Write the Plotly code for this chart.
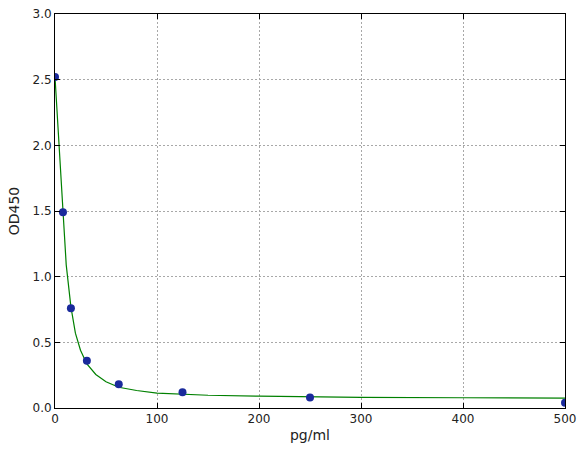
import plotly.graph_objects as go

# standard points
conc = [0, 7.8, 15.6, 31.25, 62.5, 125, 250, 500]
od450 = [2.52, 1.49, 0.76, 0.36, 0.18, 0.12, 0.08, 0.04]

# fitted curve
curve_x = [0, 3.9, 7.8, 11, 15.6, 20, 25, 31.25, 40, 50, 62.5, 80, 100, 125, 150, 200, 250, 300, 400, 500]
curve_y = [2.52, 2.0, 1.49, 1.09, 0.77, 0.57, 0.44, 0.335, 0.255, 0.2, 0.158, 0.133, 0.114, 0.105, 0.097, 0.09, 0.085, 0.081, 0.078, 0.075]

font = "DejaVu Sans, Liberation Sans, sans-serif"

fig = go.Figure()
fig.add_trace(go.Scatter(x=curve_x, y=curve_y, mode="lines",
                         line=dict(color="#008000", width=1.2), showlegend=False))
fig.add_trace(go.Scatter(x=conc, y=od450, mode="markers",
                         marker=dict(color="#1a2a9c", size=8), showlegend=False))

axis_common = dict(
    showline=True, linecolor="black", linewidth=1, mirror="allticks",
    ticks="inside", ticklen=5, tickcolor="black",
    showgrid=True, gridcolor="#a8a8a8", griddash="2px,2px", gridwidth=1,
    zeroline=False, tickfont=dict(size=12, color="#222"), automargin=False,
)

fig.update_layout(
    width=587, height=457,
    margin=dict(l=55, r=22, t=14, b=49),
    plot_bgcolor="white", paper_bgcolor="white",
    font=dict(family=font, size=12, color="#222"),
    xaxis=dict(range=[0, 500], dtick=100, title=dict(text="pg/ml", standoff=4), **axis_common),
    yaxis=dict(range=[0, 3.0], dtick=0.5, tickformat=".1f", title=dict(text="OD450", standoff=9), **axis_common),
)

# drop the browser's default body margin so the figure sits at the page corner
fig.write_html("out.html", config={"displayModeBar": False},
               post_script="document.body.style.margin='0';")
